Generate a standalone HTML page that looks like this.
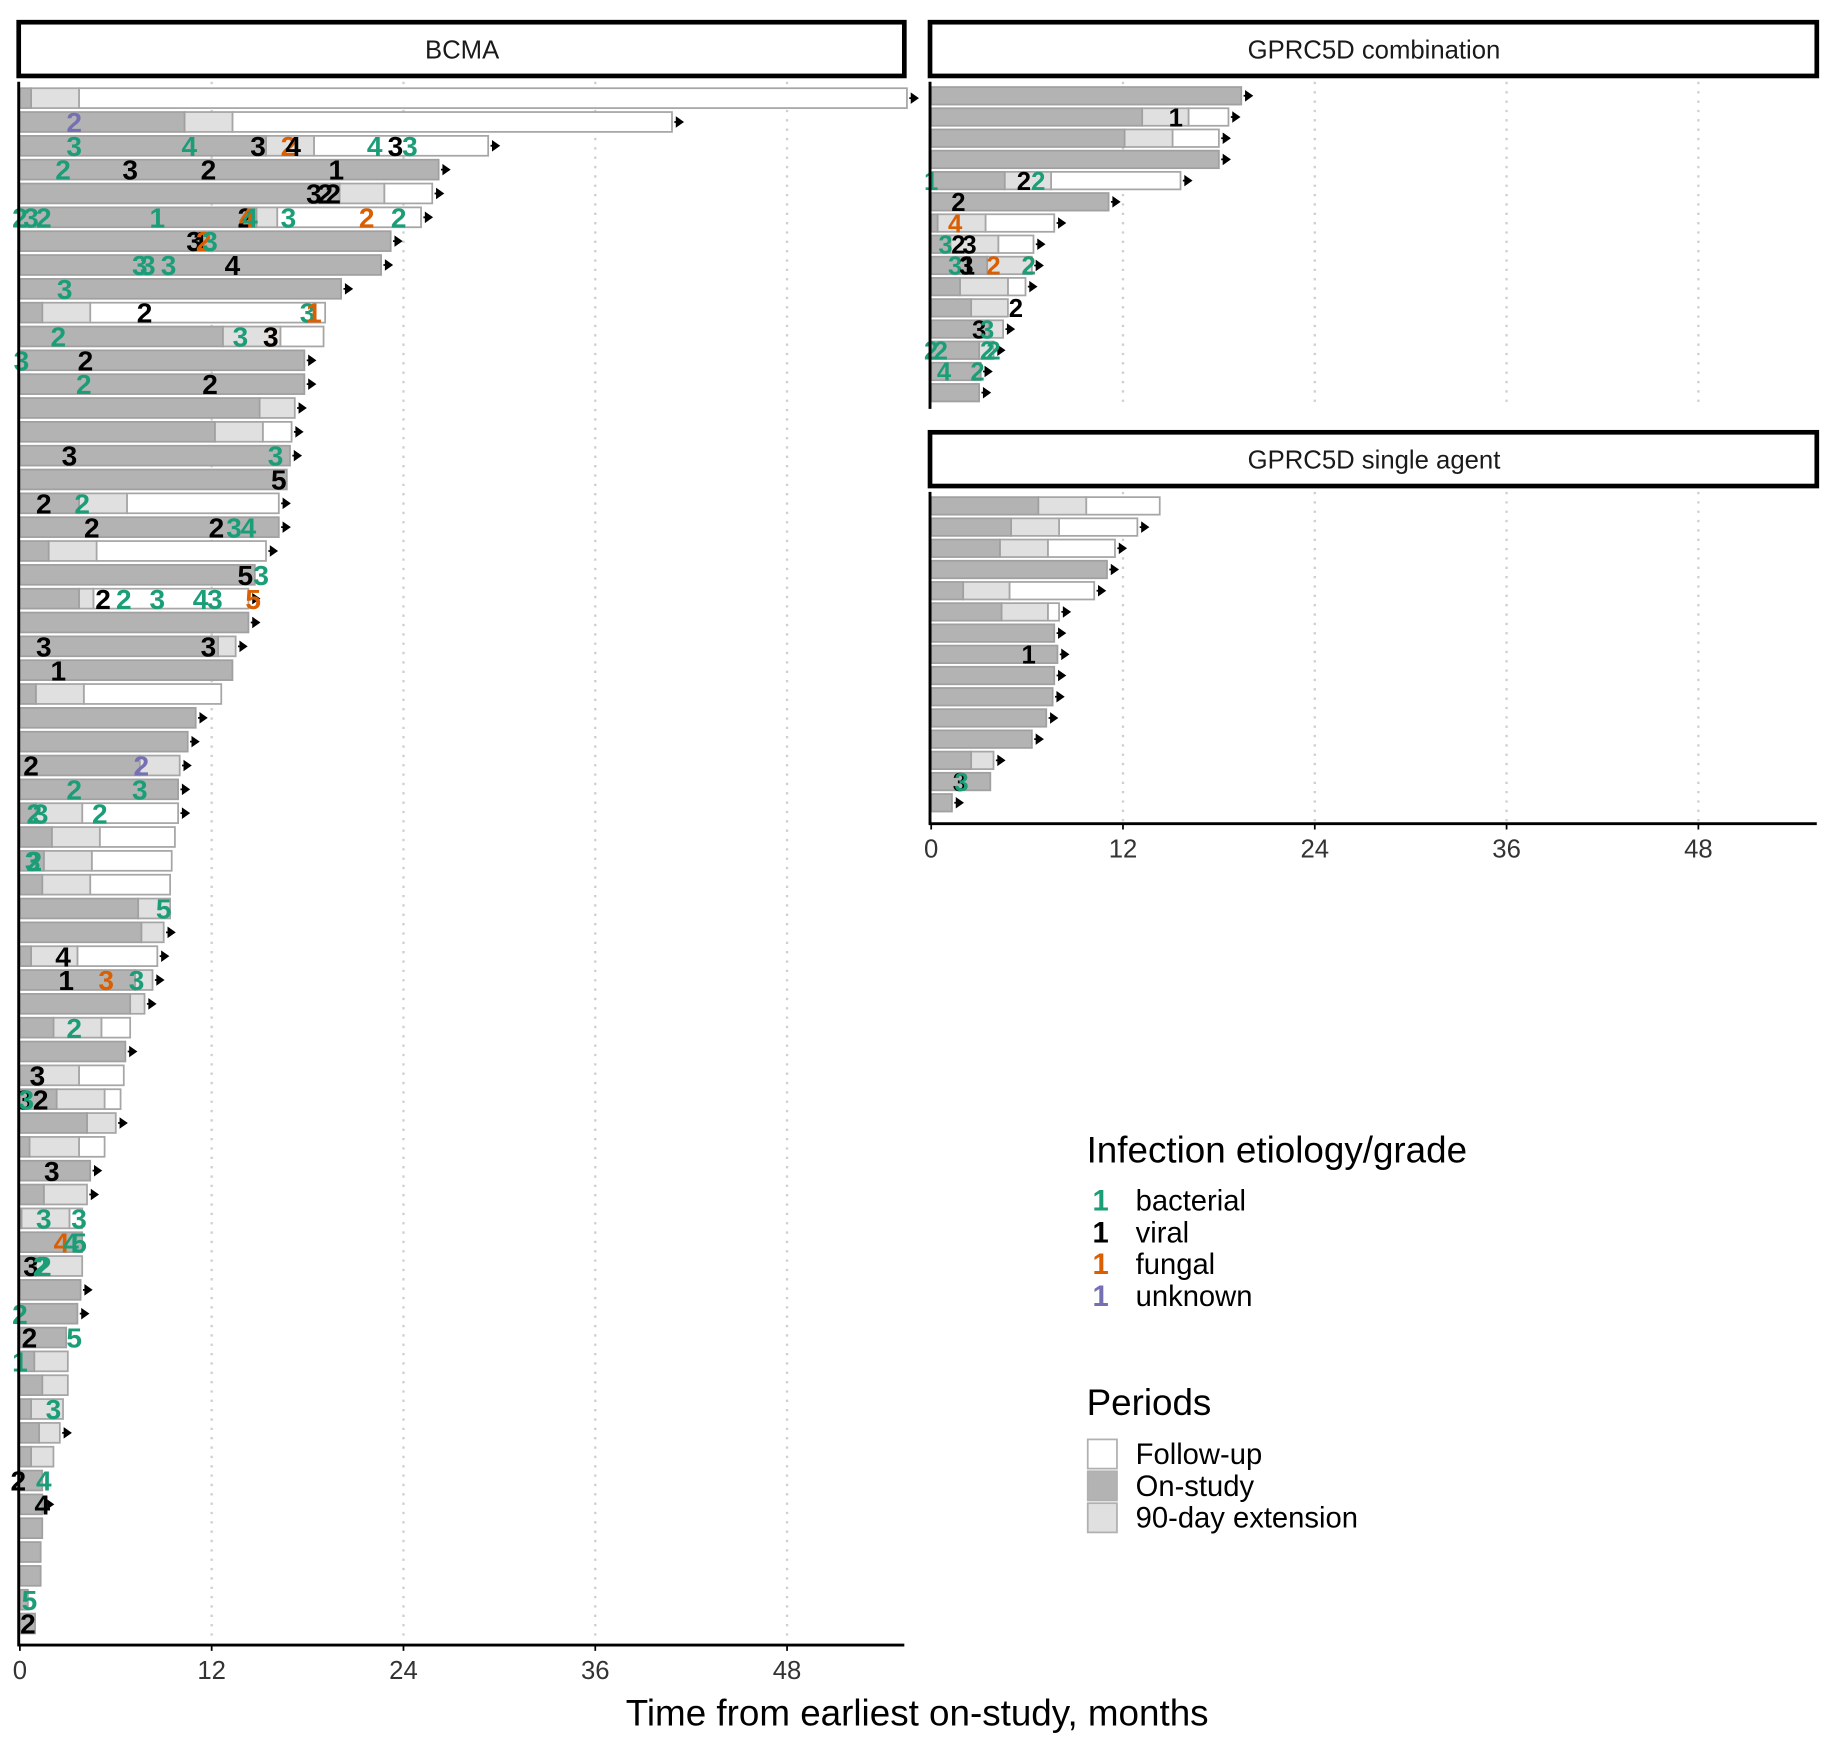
<!DOCTYPE html>
<html><head><meta charset="utf-8"><style>
html,body{margin:0;padding:0;background:#fff;}
svg{display:block;font-family:"Liberation Sans",Arial,sans-serif;}
</style></head><body>
<svg id="chart" width="1832" height="1742" viewBox="0 0 1568 1491" xmlns="http://www.w3.org/2000/svg">
<g id="root"></g>
</svg>
<script>
// ---- data: each row = [onStudyEnd, extensionEnd, followUpEnd, ongoingArrow] (months) ----
const bcmaRows = [
[0.7,3.7,55.5,1],[10.3,13.3,40.8,1],[15.4,18.4,29.3,1],[26.2,null,null,1],[20.0,22.8,25.8,1],
[14.8,16.1,25.1,1],[23.2,null,null,1],[22.6,null,null,1],[20.1,null,null,1],[1.4,4.4,19.1,0],
[12.7,16.3,19.0,0],[17.8,null,null,1],[17.8,null,null,1],[15.0,17.2,null,1],[12.2,15.2,17.0,1],
[16.9,null,null,1],[16.7,null,null,0],[3.7,6.7,16.2,1],[16.2,null,null,1],[1.8,4.8,15.4,1],
[14.7,null,null,0],[3.7,4.6,14.3,1],[14.3,null,null,1],[12.4,13.5,null,1],[13.3,null,null,0],
[1.0,4.0,12.6,0],[11.0,null,null,1],[10.5,null,null,1],[7.5,10.0,null,1],[9.9,null,null,1],
[1.0,3.9,9.9,1],[2.0,5.0,9.7,0],[1.5,4.5,9.5,0],[1.4,4.4,9.4,0],[7.4,9.4,null,0],
[7.6,9.0,null,1],[0.7,3.6,8.6,1],[7.2,8.3,null,1],[6.9,7.8,null,1],[2.1,5.1,6.9,0],
[6.6,null,null,1],[1.2,3.7,6.5,0],[2.3,5.3,6.3,0],[4.2,6.0,null,1],[0.6,3.7,5.3,0],
[4.4,null,null,1],[1.5,4.2,null,1],[0.1,3.1,3.9,0],[3.9,null,null,0],[1.0,3.9,null,0],
[3.8,null,null,1],[3.6,null,null,1],[2.9,null,null,0],[0.9,3.0,null,0],[1.4,3.0,null,0],
[0.7,2.7,null,0],[1.2,2.5,null,1],[0.7,2.1,null,0],[1.4,null,null,0],[1.4,null,null,1],
[1.4,null,null,0],[1.3,null,null,0],[1.3,null,null,0],[0.5,null,null,0],[0.95,null,null,0]
];
// labels = [row, month, grade, etiology] etiology: b=bacterial v=viral f=fungal u=unknown
const bcmaLabels = [
[1,3.4,2,'u'],
[2,3.4,3,'b'],[2,10.6,4,'b'],[2,14.9,3,'v'],[2,16.8,2,'f'],[2,17.1,4,'v'],[2,22.2,4,'b'],[2,23.5,3,'v'],[2,24.4,3,'b'],
[3,2.7,2,'b'],[3,6.9,3,'v'],[3,11.8,2,'v'],[3,19.8,1,'v'],
[4,18.4,3,'v'],[4,19.1,2,'v'],[4,19.6,2,'v'],
[5,0,2,'b'],[5,0.7,3,'b'],[5,1.5,2,'b'],[5,8.6,1,'b'],[5,14.1,2,'v'],[5,14.2,4,'f'],[5,14.4,4,'b'],[5,16.8,3,'b'],[5,21.7,2,'f'],[5,23.7,2,'b'],
[6,10.9,3,'v'],[6,11.3,1,'v'],[6,11.5,2,'f'],[6,11.9,3,'b'],
[7,7.5,3,'b'],[7,8.0,3,'b'],[7,9.3,3,'b'],[7,13.3,4,'v'],
[8,2.8,3,'b'],
[9,7.8,2,'v'],[9,18.0,3,'b'],[9,18.4,1,'f'],
[10,2.4,2,'b'],[10,13.8,3,'b'],[10,15.7,3,'f'],[10,15.7,3,'v'],
[11,0.1,3,'b'],[11,4.1,2,'v'],
[12,4.0,2,'b'],[12,11.9,2,'v'],
[15,3.1,3,'v'],[15,16.0,3,'b'],
[16,16.2,5,'v'],
[17,1.5,2,'v'],[17,3.9,2,'b'],
[18,4.5,2,'v'],[18,12.3,2,'v'],[18,13.4,3,'b'],[18,14.3,4,'b'],
[20,14.1,5,'v'],[20,15.1,3,'b'],
[21,5.2,2,'v'],[21,6.5,2,'b'],[21,8.6,3,'b'],[21,11.3,4,'b'],[21,12.2,3,'b'],[21,14.6,5,'f'],
[23,1.5,3,'v'],[23,11.8,3,'v'],
[24,2.4,1,'v'],
[28,0.7,2,'v'],[28,7.6,2,'u'],
[29,3.4,2,'b'],[29,7.5,3,'b'],
[30,0.9,2,'b'],[30,1.3,3,'b'],[30,5.0,2,'b'],
[32,0.8,3,'b'],[32,0.9,2,'b'],
[34,9.0,5,'b'],
[36,2.7,4,'v'],
[37,2.9,1,'v'],[37,5.4,3,'f'],[37,7.3,3,'b'],
[39,3.4,2,'b'],
[41,1.1,3,'v'],
[42,0.3,3,'v'],[42,0.4,3,'b'],[42,1.3,2,'v'],
[45,2.0,3,'v'],
[47,1.5,3,'b'],[47,3.7,3,'b'],
[48,2.6,4,'f'],[48,3.2,4,'b'],[48,3.7,5,'b'],
[49,0.7,3,'v'],[49,1.3,2,'b'],[49,1.5,2,'b'],
[51,0,2,'b'],
[52,0.6,2,'v'],[52,3.4,5,'b'],
[53,0,1,'b'],
[55,2.1,3,'b'],
[58,-0.1,2,'v'],[58,1.5,4,'b'],
[59,1.4,4,'b'],[59,1.4,4,'v'],
[63,0.6,5,'b'],
[64,0.5,2,'v']
];
const comboRows = [
[19.4,null,null,1],[13.2,16.1,18.6,1],[12.1,15.1,18.0,1],[18.0,null,null,1],[4.6,7.5,15.6,1],
[11.1,null,null,1],[0.4,3.4,7.7,1],[1.2,4.2,6.4,1],[3.5,6.3,null,1],[1.8,4.8,5.9,1],
[2.5,4.8,null,0],[3.6,4.5,null,1],[3.0,3.9,null,1],[3.1,null,null,1],[3.0,null,null,1]
];
const comboLabels = [
[1,15.3,1,'v'],
[4,0,1,'b'],[4,5.8,2,'v'],[4,6.7,2,'b'],
[5,1.7,2,'v'],
[6,1.5,4,'f'],
[7,0.9,3,'b'],[7,1.7,2,'v'],[7,2.4,3,'v'],
[8,1.5,3,'b'],[8,2.2,3,'v'],[8,2.3,1,'v'],[8,3.9,2,'f'],[8,6.1,2,'f'],[8,6.1,2,'b'],
[10,5.3,2,'v'],
[11,3.0,3,'v'],[11,3.5,3,'b'],
[12,0,2,'b'],[12,0.6,2,'b'],[12,3.5,2,'b'],[12,3.9,2,'b'],
[13,0.8,4,'b'],[13,2.9,2,'b']
];
const singleRows = [
[6.7,9.7,14.3,0],[5.0,8.0,12.9,1],[4.3,7.3,11.5,1],[11.0,null,null,1],[2.0,4.9,10.2,1],
[4.4,7.3,8.0,1],[7.7,null,null,1],[7.9,null,null,1],[7.7,null,null,1],[7.6,null,null,1],
[7.2,null,null,1],[6.3,null,null,1],[2.5,3.9,null,1],[3.7,null,null,0],[1.3,null,null,1]
];
const singleLabels = [
[7,6.1,1,'v'],
[13,1.8,3,'v'],[13,1.9,3,'b']
];
const xTicks = [0,12,24,36,48];
const etioColors = {b:'#1b9e77',v:'#000000',f:'#d95f02',u:'#7570b3'};

const NS='http://www.w3.org/2000/svg';
const root=document.getElementById('root');
function mk(tag,attrs,parent){const e=document.createElementNS(NS,tag);for(const k in attrs)e.setAttribute(k,attrs[k]);(parent||root).appendChild(e);return e;}
const PXM=13.68;

function panel(key,title,x0,stripTop,plotTop,plotBottom,rightX,rows,labels,rowY0,rowStep,barH,showAxis,axisY,fontSize){
  const g=mk('g',{});
  
  
  const xs=m=>x0+m*PXM;
  const st=mk('rect',{x:x0-1,y:stripTop,width:rightX-x0+1,height:46,fill:'#fff',stroke:'#000','stroke-width':4},g);
  
  
  const tt=mk('text',{x:(x0+rightX)/2,y:stripTop+31,'text-anchor':'middle','font-size':22,fill:'#1a1a1a'},g);
  tt.textContent=title;
  
  
  xTicks.forEach(t=>{ if(t===0) return;
    const gl=mk('line',{x1:xs(t),x2:xs(t),y1:plotTop,y2:plotBottom,stroke:'#cfcfcf','stroke-width':2,'stroke-dasharray':'2,6'},g);
    
    
  });
  rows.forEach((r,i)=>{
    const y=rowY0+i*rowStep; const top=y-barH/2;
    const bg=mk('g',{},g);
    
    
    let end=r[0];
    if(r[2]!=null){ const fu=mk('rect',{x:xs(r[1]!=null?r[1]:r[0]),y:top,width:xs(r[2])-xs(r[1]!=null?r[1]:r[0]),height:barH,fill:'#ffffff',stroke:'#a6a6a6','stroke-width':1.5},bg);
      
       end=r[2]; }
    if(r[1]!=null){ const ex=mk('rect',{x:xs(r[0]),y:top,width:xs(r[1])-xs(r[0]),height:barH,fill:'#e0e0e0',stroke:'#a6a6a6','stroke-width':1.5},bg);
      
       if(r[2]==null) end=r[1]; }
    const on=mk('rect',{x:xs(0),y:top,width:xs(r[0])-xs(0),height:barH,fill:'#b3b3b3',stroke:'#a0a0a0','stroke-width':1.5},bg);
    
    
    if(r[3]){ const ax=xs(end);
      const ar=mk('path',{d:`M${ax+2},${y} L${ax+5},${y} M${ax+4},${y-3.5} L${ax+9},${y} L${ax+4},${y+3.5} Z`,stroke:'#000','stroke-width':1.5,fill:'#000'},bg);
      
       }
  });
  labels.forEach(l=>{
    const y=rowY0+l[0]*rowStep;
    const t=mk('text',{x:xs(l[1]),y:y+fontSize*0.36,'text-anchor':'middle','font-size':fontSize,'font-weight':'bold',fill:etioColors[l[3]]},g);
    t.textContent=String(l[2]);
    
    
  });
  const la=mk('line',{x1:x0-1,x2:x0-1,y1:plotTop,y2:showAxis?axisY+1:plotBottom,stroke:'#000','stroke-width':2.5},g);
  
  
  if(showAxis){
    const ba=mk('line',{x1:x0-2,x2:rightX,y1:axisY,y2:axisY,stroke:'#000','stroke-width':2.5},g);
    
    
    xTicks.forEach(t=>{
      const tk=mk('line',{x1:xs(t),x2:xs(t),y1:axisY,y2:axisY+5,stroke:'#000','stroke-width':1.5},g);
      
      
      const tl=mk('text',{x:xs(t),y:axisY+29,'text-anchor':'middle','font-size':22,fill:'#333'},g);
      tl.textContent=String(t);
      
      
    });
  }
}
panel('bcma','BCMA',17,19,70,1406,774,bcmaRows,bcmaLabels,84,20.4,17,true,1408,24);
panel('gprc5d-combination','GPRC5D combination',797,19,70,350,1555,comboRows,comboLabels,82,18.15,15,false,0,22);
panel('gprc5d-single','GPRC5D single agent',797,370,421,703,1555,singleRows,singleLabels,433,18.15,15,true,705,22);

const xt=mk('text',{x:785,y:1477,'text-anchor':'middle','font-size':31.5,fill:'#000'});
xt.textContent='Time from earliest on-study, months';



const lg=mk('g',{});


const lt=mk('text',{x:930,y:995,'font-size':31.5,fill:'#000'},lg);
lt.textContent='Infection etiology/grade';
const etioNames=[['b','bacterial'],['v','viral'],['f','fungal'],['u','unknown']];
etioNames.forEach((e,i)=>{
  const y=1036+i*27.3;
  const k=mk('text',{x:942,y:y,'text-anchor':'middle','font-size':25,'font-weight':'bold',fill:etioColors[e[0]]},lg);
  k.textContent='1';
  
  
  const n=mk('text',{x:972,y:y,'font-size':25,fill:'#000'},lg);
  n.textContent=e[1];
  
  
});
const pg=mk('g',{});


const pt=mk('text',{x:930,y:1211,'font-size':31.5,fill:'#000'},pg);
pt.textContent='Periods';
const periods=[['#ffffff','Follow-up'],['#b3b3b3','On-study'],['#e0e0e0','90-day extension']];
periods.forEach((p,i)=>{
  const y=1232+i*27.3;
  const r=mk('rect',{x:931,y:y,width:25,height:25,fill:p[0],stroke:'#b0b0b0','stroke-width':1.5},pg);
  
  
  const n=mk('text',{x:972,y:y+21,'font-size':25,fill:'#000'},pg);
  n.textContent=p[1];
  
  
});
</script>
</body></html>
